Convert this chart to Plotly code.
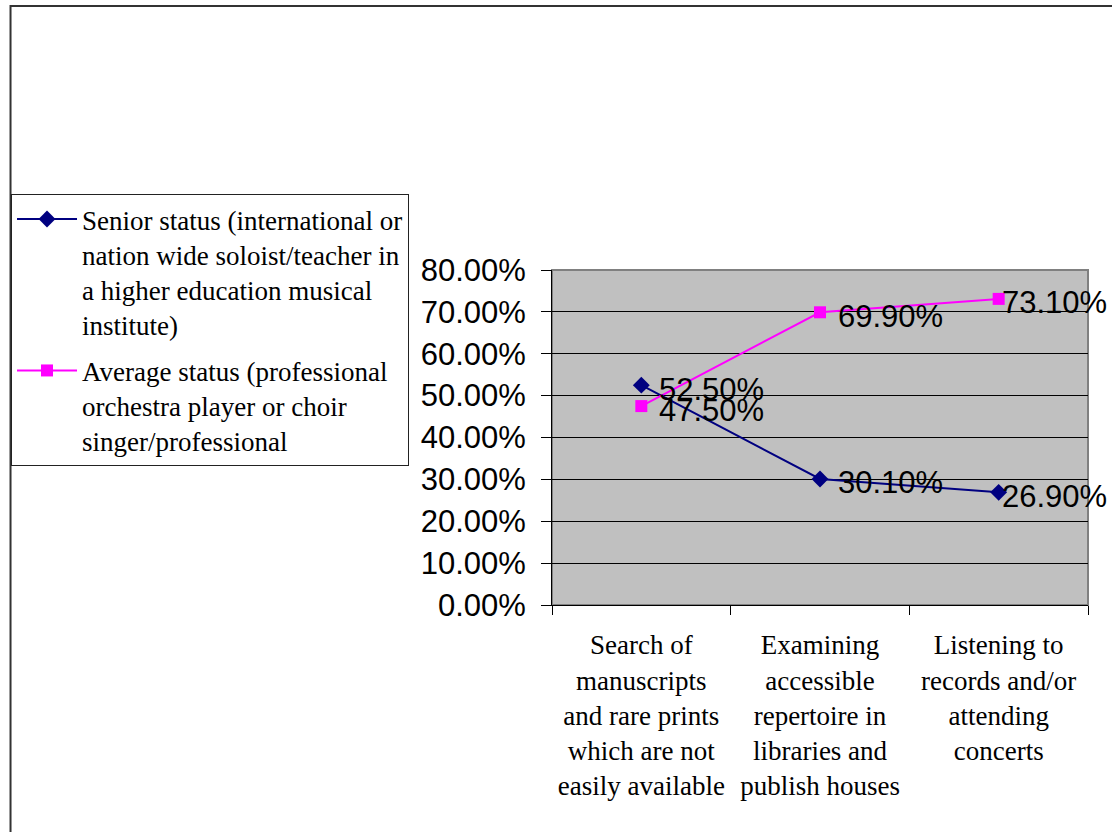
import plotly.graph_objects as go

categories = [
    "Search of<br>manuscripts<br>and rare prints<br>which are not<br>easily available",
    "Examining<br>accessible<br>repertoire in<br>libraries and<br>publish houses",
    "Listening to<br>records and/or<br>attending<br>concerts",
]
series_names = [
    "Senior status (international or<br>nation wide soloist/teacher in<br>a higher education musical<br>institute)",
    "Average status (professional<br>orchestra player or choir<br>singer/professional",
]
senior_values = [0.525, 0.301, 0.269]
average_values = [0.475, 0.699, 0.731]

W, H = 1112, 832
L, R, T, B = 550, 24, 270, 227
pw, ph = W - L - R, H - T - B

def px_x(p):
    return (p - L) / pw

def px_y(p):
    return (H - B - p) / ph

fig = go.Figure()
fig.add_trace(go.Scatter(
    x=categories, y=senior_values, name=series_names[0], legendgroup="a",
    mode="lines+markers",
    line=dict(color="#000080", width=2),
    marker=dict(symbol="diamond", size=13, color="#000080"),
))
fig.add_trace(go.Scatter(
    x=categories, y=average_values, name=series_names[1], legendgroup="b",
    mode="lines+markers",
    line=dict(color="#FF00FF", width=2),
    marker=dict(symbol="square", size=12, color="#FF00FF"),
))

annotations = []
last = len(categories) - 1
for vals in (senior_values, average_values):
    for i, (c, v) in enumerate(zip(categories, vals)):
        # labels at the last category are pushed back inside the chart area
        if i == last:
            anchor, shift = "right", 110
        else:
            anchor, shift = "left", 16
        annotations.append(dict(
            x=c, y=v, xref="x", yref="y", text=f"{v*100:.2f}%",
            showarrow=False, xanchor=anchor, yanchor="middle",
            xshift=shift, yshift=-4,
            font=dict(family="Liberation Sans", size=31, color="black"),
        ))

fig.update_layout(
    width=W, height=H,
    margin=dict(l=L, r=R, t=T, b=B, pad=0),
    paper_bgcolor="white",
    plot_bgcolor="#C0C0C0",
    showlegend=True,
    legend=dict(
        x=px_x(7), y=px_y(194), xanchor="left", yanchor="top",
        bgcolor="white", bordercolor="#222222", borderwidth=1,
        font=dict(family="Liberation Serif", size=27, color="black"),
        traceorder="grouped", tracegroupgap=8, valign="top",
        itemwidth=60,
    ),
    annotations=annotations,
    shapes=[
        dict(type="rect", xref="paper", yref="paper",
             x0=px_x(6.5), x1=1.3, y0=-1.0, y1=px_y(6),
             line=dict(color="#333333", width=2), fillcolor="rgba(0,0,0,0)", layer="below"),
        dict(type="rect", xref="paper", yref="paper", x0=0, x1=1, y0=0, y1=1,
             line=dict(color="#808080", width=2), fillcolor="rgba(0,0,0,0)", layer="below"),
    ],
)
fig.update_yaxes(
    range=[0, 0.8], dtick=0.1, tick0=0, tickformat=".2%",
    showgrid=True, gridcolor="black", gridwidth=1,
    showline=True, linecolor="black", linewidth=1,
    ticks="outside", ticklen=10, tickcolor="black",
    ticklabelstandoff=9,
    tickfont=dict(family="Liberation Sans", size=31, color="black"),
    zeroline=False, fixedrange=True,
)
fig.update_xaxes(
    type="category", range=[-0.5, 2.5], tickson="boundaries",
    showgrid=False, showline=True, linecolor="black", linewidth=1,
    ticks="outside", ticklen=9, tickcolor="black",
    tickfont=dict(family="Liberation Serif", size=27, color="black"),
    ticklabelstandoff=16,
    zeroline=False, fixedrange=True,
)

fig.write_html(
    "out.html",
    config={"displayModeBar": False},
    post_script="document.body.style.margin='0';document.body.style.overflow='hidden';",
)
